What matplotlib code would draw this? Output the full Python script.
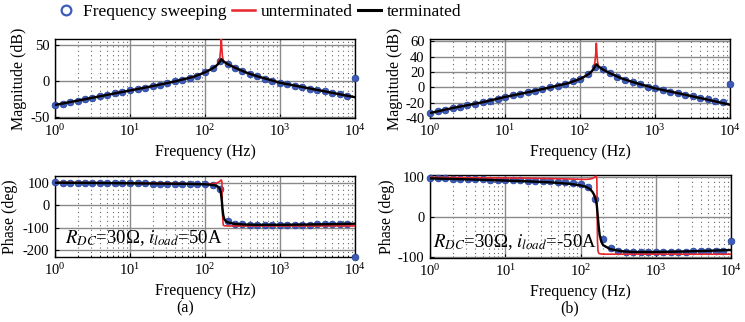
"""
Bode plots (magnitude / phase) of the DC-link impedance:
frequency sweep vs. unterminated and terminated models.
"""
import matplotlib
matplotlib.use("Agg")
import matplotlib.pyplot as plt
from matplotlib.lines import Line2D
from matplotlib.ticker import LogLocator, NullFormatter

plt.rcParams["font.family"] = ["Liberation Serif", "DejaVu Serif"]
plt.rcParams["mathtext.fontset"] = "stix"
plt.rcParams["axes.unicode_minus"] = False

# ---- frequency sweep points (Hz) ----
f_sweep = [1, 1.26, 1.58, 2.0, 2.51, 3.16, 3.98, 5.01, 6.31, 7.94,
           10, 12.6, 15.8, 20.0, 25.1, 31.6, 39.8, 50.1, 63.1, 79.4,
           100, 126, 158, 200, 251, 316, 398, 501, 631, 794,
           1000, 1259, 1585, 1995, 2512, 3162, 3981, 5012, 6310, 7943, 10000]

mag_a_sweep = [-33, -31, -29, -27, -25, -23, -21, -19, -17, -15,
               -13, -11, -9, -7, -5, -2.7, -0.4, 2, 4.6, 7.6,
               12, 17.5, 27, 23.5, 18.5, 14, 10, 6.5, 3.5, 0.5,
               -2.3, -4.3, -6.3, -8.3, -10.3, -12.3, -14.3, -16.3, -18.3, -20.3, 4]
mag_b_sweep = [-33.5, -31.5, -29.5, -27.5, -25.5, -23.5, -21.5, -19.5, -17.5, -15,
               -12.5, -10.5, -8.5, -6.5, -4.5, -2.3, 0, 2.3, 4.8, 7.8,
               11, 17, 27, 24, 18.5, 14, 10, 7, 3.8, 1,
               -1.3, -3.5, -5.5, -7.5, -9.5, -11.5, -13.5, -15.5, -17.5, -19.5, 5]
ph_a_sweep = [101, 100.5, 100, 100, 99.5, 99, 99, 98.5, 98, 97.5,
              97.5, 97, 97, 96.5, 96, 95.5, 95.5, 95, 94.5, 93.5,
              93, 91, 72, -68, -82, -85, -86.5, -87, -87, -87.5,
              -87, -87, -87, -86.5, -86, -85.5, -85, -84.5, -84, -83, -230]
ph_b_sweep = [98.5, 98, 97.5, 97, 96.5, 96, 95.5, 95, 94.5, 94,
              93.5, 93, 92.5, 92, 91.5, 91, 90, 89, 88, 86,
              84, 77, 45, -55, -78, -84, -86, -87, -87, -87.5,
              -87.5, -87, -87, -86.5, -86, -85.5, -85, -84.5, -84, -84, -60]

# ---- model curves (Hz) ----
f_line = [1, 2, 5, 10, 20, 40, 70, 100, 120, 135, 145, 152, 158, 162, 165,
          168, 171, 175, 180, 190, 200, 250, 350, 500, 1000, 2000, 5000, 10000]

mag_a_term = [-33, -27, -19, -13, -7, -0.4, 5.8, 12, 16.3, 19.5, 22, 24.5, 27, 29, 30,
              29.5, 28.5, 27.5, 26.5, 25, 23.5, 18.5, 12, 6.5, -2.3, -8.3, -16.3, -22.3]
mag_a_unterm = [-33, -27, -19, -13, -7, -0.4, 5.8, 12, 16.3, 19.5, 22.5, 26, 33, 45, 58,
                45, 34, 29, 27, 25, 23.5, 18.5, 12, 6.5, -2.3, -8.3, -16.3, -22.3]
mag_b_term = [-33.5, -27, -19.5, -12.5, -6.5, 0, 5.5, 11, 15, 18.5, 21.5, 24, 27, 29, 30,
              29.5, 28.5, 27.5, 26.5, 25, 23.5, 18.5, 12, 7, -1.3, -7.5, -16, -22.7]
mag_b_unterm = [-33.5, -27, -19.5, -12.5, -6.5, 0, 5.5, 11, 15, 18.5, 22, 25.5, 33, 44, 57.5,
                44, 34, 29, 27, 25, 23.5, 18.5, 12, 7, -1.3, -7.5, -16, -22.7]
ph_a_term = [100, 99.5, 98.5, 97.5, 96.5, 95.5, 94.5, 93, 91, 88.5, 85, 80, 72, 60, 40,
             15, -15, -42, -60, -71, -76, -83, -86, -87, -87, -86, -84, -82]
ph_a_unterm = [101, 100.5, 99.5, 98.5, 97.5, 96.5, 95.5, 94.5, 95, 96.5, 99, 103, 106, 111, 112,
               105, -40, -88, -91, -91.5, -92, -92, -92, -92, -92, -92, -92, -92]
ph_b_term = [97.5, 96, 94, 92, 90, 87.5, 84, 80, 76, 70, 63, 56, 47, 38, 28,
             12, -5, -25, -45, -62, -70, -80, -85, -87, -87, -86, -84, -82]
ph_b_unterm = [100, 99.5, 99, 98.5, 98, 97, 96, 95, 95, 96, 97.5, 100, 102, 103, 95,
               -60, -85, -90, -91.5, -92, -92.5, -92.5, -92.5, -92.5, -92.5, -92.5, -92.5, -92.5]

BLUE = "#3d5cb8"
RED = "#e8252a"


def style_axes(ax, yticks, ylim):
    ax.set_xscale("log")
    ax.set_xlim(1, 1e4)
    ax.set_ylim(*ylim)
    ax.set_yticks(yticks)
    ax.xaxis.set_major_locator(LogLocator(base=10, numticks=10))
    ax.xaxis.set_minor_locator(LogLocator(base=10, subs=range(2, 10), numticks=50))
    ax.xaxis.set_minor_formatter(NullFormatter())
    ax.grid(True, which="major", color="#8a8a8a", linewidth=1.0)
    ax.grid(True, which="minor", axis="x", color="#666666", linewidth=0.8,
            linestyle=(0, (1, 3)))
    ax.tick_params(which="both", direction="in", labelsize=10.5, pad=4)
    ax.tick_params(which="major", length=3)
    ax.tick_params(which="minor", length=1.5)
    for s in ax.spines.values():
        s.set_linewidth(1.0)
    ax.set_xlabel("Frequency (Hz)", fontsize=11.5, labelpad=3)


def draw(ax, sweep, unterm, term):
    ax.plot(f_sweep, sweep, linestyle="none", marker="o", markersize=4.8,
            color=BLUE, markeredgecolor="#2b47a0", markeredgewidth=0.6, clip_on=False, zorder=3)
    ax.plot(f_line, unterm, color=RED, linewidth=1.2, zorder=4)
    ax.plot(f_line, term, color="black", linewidth=1.7, zorder=5)


fig = plt.figure(figsize=(7.45, 3.22), dpi=100)
ax_am = fig.add_axes([0.0738, 0.6335, 0.4027, 0.2453])
ax_ap = fig.add_axes([0.0738, 0.2019, 0.4027, 0.2516])
ax_bm = fig.add_axes([0.5772, 0.6335, 0.4027, 0.2453])
ax_bp = fig.add_axes([0.5772, 0.1988, 0.4040, 0.2578])

draw(ax_am, mag_a_sweep, mag_a_unterm, mag_a_term)
draw(ax_ap, ph_a_sweep, ph_a_unterm, ph_a_term)
draw(ax_bm, mag_b_sweep, mag_b_unterm, mag_b_term)
draw(ax_bp, ph_b_sweep, ph_b_unterm, ph_b_term)

style_axes(ax_am, [-50, 0, 50], (-51, 58))
style_axes(ax_ap, [-200, -100, 0, 100], (-230, 130))
style_axes(ax_bm, [-40, -20, 0, 20, 40, 60], (-40, 63))
style_axes(ax_bp, [-100, 0, 100], (-102, 106))

ax_am.set_ylabel("Magnitude (dB)", fontsize=11.5)
ax_bm.set_ylabel("Magnitude (dB)", fontsize=11.5)
ax_ap.set_ylabel("Phase (deg)", fontsize=11.5)
ax_bp.set_ylabel("Phase (deg)", fontsize=11.5)
# label coords give the right edge of the rotated label
ax_am.yaxis.set_label_coords(-0.093, 0.5)
ax_ap.yaxis.set_label_coords(-0.123, 0.5)
ax_bm.yaxis.set_label_coords(-0.09, 0.5)
ax_bp.yaxis.set_label_coords(-0.116, 0.5)

ax_ap.text(0.033, 0.17, r"$R_{DC}$=30Ω, $i_{load}$=50A", transform=ax_ap.transAxes,
           fontsize=13.5, va="baseline", ha="left", zorder=6)
ax_bp.text(0.01, 0.13, r"$R_{DC}$=30Ω, $i_{load}$=-50A", transform=ax_bp.transAxes,
           fontsize=13.5, va="baseline", ha="left", zorder=6)

fig.text(185 / 745, 1 - 308 / 322, "(a)", fontsize=11.5, ha="center", va="center")
fig.text(570 / 745, 1 - 308 / 322, "(b)", fontsize=11.5, ha="center", va="center")

handles = [
    Line2D([], [], linestyle="none", marker="o", markersize=7, markerfacecolor="white",
           markeredgecolor=BLUE, markeredgewidth=1.6),
    Line2D([], [], color=RED, linewidth=1.8),
    Line2D([], [], color="black", linewidth=2.2),
]
fig.legend(handles, ["Frequency sweeping", "unterminated", "terminated"],
           loc="center left", bbox_to_anchor=(46 / 745, 1 - 12 / 322), ncol=3,
           frameon=False, fontsize=12.5, borderpad=0, handlelength=1.3,
           handletextpad=0.35, columnspacing=0.3)

fig.savefig("out.png", dpi=100)
